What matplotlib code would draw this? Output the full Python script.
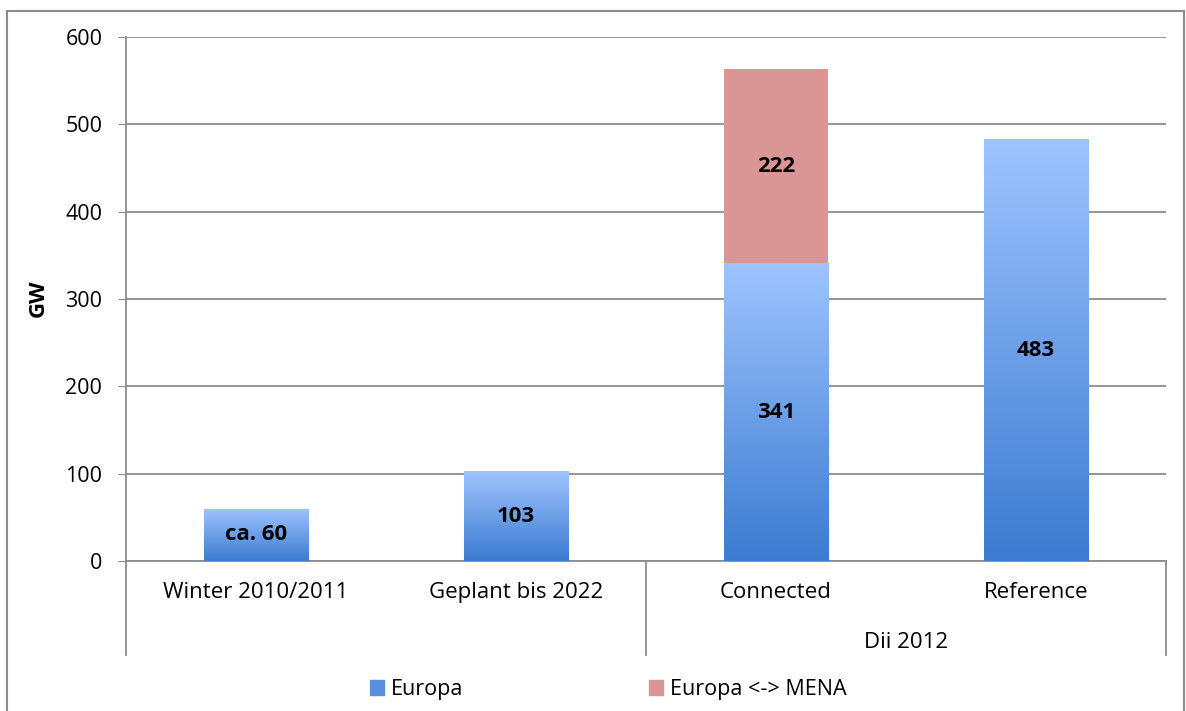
import numpy as np
import matplotlib.pyplot as plt
from matplotlib.colors import LinearSegmentedColormap
from matplotlib.patches import Rectangle
import matplotlib.transforms as mtransforms

categories = ["Winter 2010/2011", "Geplant bis 2022", "Connected", "Reference"]
europa = [60, 103, 341, 483]
mena = [0, 0, 222, 0]
europa_labels = ["ca. 60", "103", "341", "483"]
mena_labels = ["", "", "222", ""]
group_label = "Dii 2012"

plt.rcParams["font.family"] = ["Open Sans", "DejaVu Sans"]

blue_grad = LinearSegmentedColormap.from_list("bg", ["#3b7bd0", "#9ec4ff"])
red = "#d99694"
grey = "#8c8c8c"

fig = plt.figure(figsize=(11.86, 7.11), dpi=100)
ax = fig.add_axes([0.1062, 0.211, 0.8769, 0.737])

x = np.arange(len(categories))
b1 = ax.bar(x, europa, width=0.4, color="none", zorder=3)
b2 = ax.bar(x, mena, width=0.4, bottom=europa, color=red, zorder=3)

# vertical gradient fill for the blue bars
grad = np.linspace(0, 1, 256).reshape(-1, 1)
for p in b1.patches:
    x0, y0 = p.get_x(), p.get_y()
    w, h = p.get_width(), p.get_height()
    im = ax.imshow(grad, cmap=blue_grad, origin="lower", aspect="auto",
                   extent=[x0, x0 + w, y0, y0 + h], zorder=3)
    im.set_clip_path(p)

ax.bar_label(b1, labels=europa_labels, label_type="center",
             fontsize=16, fontweight="bold", zorder=5)
ax.bar_label(b2, labels=mena_labels, label_type="center",
             fontsize=16, fontweight="bold", zorder=5)

ax.set_xlim(-0.5, len(categories) - 0.5)
ax.set_ylim(0, 600)
ax.set_yticks(np.arange(0, 601, 100))
ax.tick_params(axis="y", labelsize=15.5, length=6, color=grey, pad=11)
ax.tick_params(axis="x", length=0)
ax.set_xticks([])
ax.grid(axis="y", color=grey, linewidth=1.3, zorder=0)
ax.set_axisbelow(True)
for side in ["top", "right"]:
    ax.spines[side].set_visible(False)
for side in ["left", "bottom"]:
    ax.spines[side].set_color(grey)
    ax.spines[side].set_linewidth(1.3)

# multi-level category axis
trans = mtransforms.blended_transform_factory(ax.transData, ax.transAxes)
for xi, name in zip(x, categories):
    ax.text(xi, -0.061, name, transform=trans, ha="center", va="center", fontsize=16)
ax.text(2.5, -0.155, group_label, transform=trans, ha="center", va="center", fontsize=16)
for xs in [-0.5, 1.5, 3.5]:
    ax.plot([xs, xs], [0, -0.179], transform=trans, color=grey,
            linewidth=1.3, clip_on=False)

fig.text(0.032, 0.58, "GW", rotation=90, ha="center", va="center",
         fontsize=16, fontweight="bold")

handles = [Rectangle((0, 0), 1, 1, color="#5a8fdc"), Rectangle((0, 0), 1, 1, color=red)]
fig.legend(handles, ["Europa", "Europa <-> MENA"], loc="center",
           bbox_to_anchor=(0.513, 0.03), ncol=2, frameon=False, fontsize=15.5,
           handlelength=0.65, handleheight=0.65, handletextpad=0.35,
           columnspacing=8.6)

fig.patches.append(Rectangle((7 / 1186, -0.05), 1177 / 1186, 1.05 - 11 / 711,
                             transform=fig.transFigure, fill=False,
                             edgecolor=grey, linewidth=1.5))

fig.savefig("out.png", dpi=100)
